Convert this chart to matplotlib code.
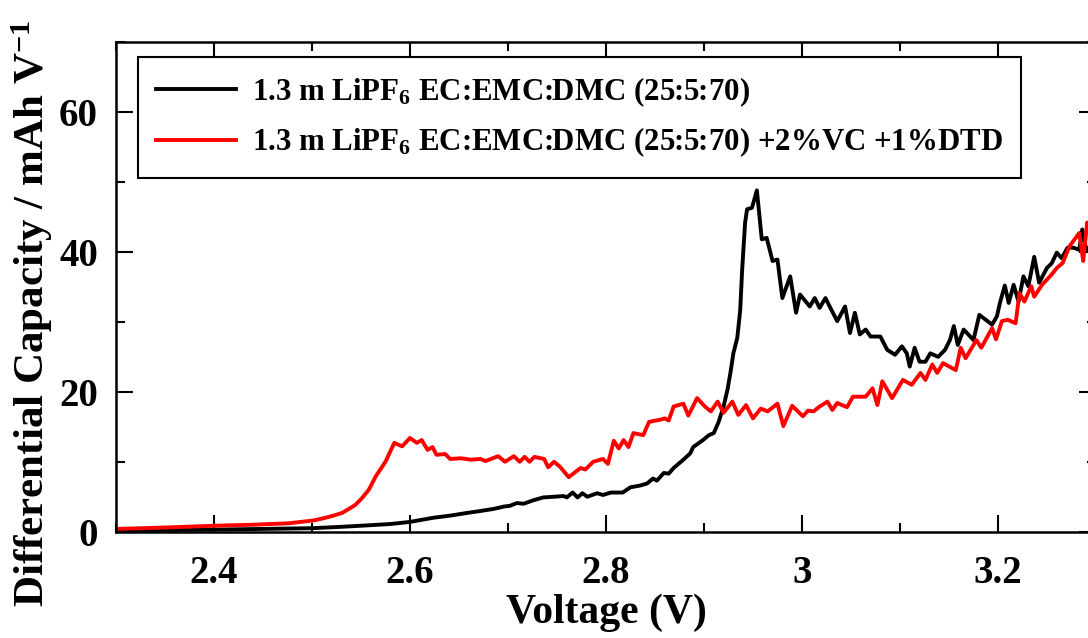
import numpy as np
import matplotlib
matplotlib.use('Agg')
import matplotlib.pyplot as plt
from matplotlib.ticker import MultipleLocator

plt.rcParams['font.family'] = 'Liberation Serif'
plt.rcParams['font.weight'] = 'bold'
plt.rcParams['axes.labelweight'] = 'bold'
plt.rcParams['mathtext.fontset'] = 'custom'
plt.rcParams['mathtext.rm'] = 'Liberation Serif:bold'
plt.rcParams['mathtext.bf'] = 'Liberation Serif:bold'
plt.rcParams['mathtext.it'] = 'Liberation Serif:bold'

# baseline electrolyte
black_v = [2.300, 2.350, 2.400, 2.450, 2.500, 2.530, 2.562, 2.580, 2.590, 2.600,
           2.612, 2.624, 2.641, 2.659, 2.669, 2.685, 2.696, 2.702, 2.709, 2.716,
           2.726, 2.736, 2.747, 2.757, 2.760, 2.766, 2.771, 2.776, 2.781, 2.791,
           2.797, 2.805, 2.817, 2.825, 2.835, 2.842, 2.848, 2.852, 2.859, 2.864,
           2.869, 2.879, 2.886, 2.889, 2.899, 2.905, 2.910, 2.915, 2.920, 2.924,
           2.927, 2.930, 2.934, 2.937, 2.939, 2.942, 2.944, 2.949, 2.954, 2.959,
           2.964, 2.970, 2.975, 2.980, 2.988, 2.994, 2.998, 3.008, 3.013, 3.018,
           3.024, 3.029, 3.036, 3.044, 3.049, 3.054, 3.059, 3.065, 3.070, 3.080,
           3.087, 3.095, 3.102, 3.107, 3.110, 3.115, 3.120, 3.126, 3.131, 3.139,
           3.146, 3.151, 3.155, 3.159, 3.165, 3.175, 3.181, 3.194, 3.199, 3.202,
           3.207, 3.211, 3.216, 3.221, 3.226, 3.231, 3.237, 3.242, 3.250, 3.255,
           3.260, 3.265, 3.271, 3.277, 3.283, 3.286, 3.290, 3.300]
black_c = [0.2, 0.25, 0.3, 0.4, 0.5, 0.7, 0.95, 1.1, 1.25, 1.4,
           1.7, 2.0, 2.3, 2.7, 2.9, 3.25, 3.6, 3.7, 4.1, 4.0,
           4.5, 4.9, 5.0, 5.1, 4.9, 5.6, 4.9, 5.5, 5.0, 5.5,
           5.25, 5.6, 5.6, 6.35, 6.6, 6.9, 7.6, 7.3, 8.4, 8.3,
           9.1, 10.3, 11.2, 12.1, 13.1, 13.8, 14.1, 15.7, 17.9, 20.3,
           22.7, 25.5, 27.7, 31.7, 37.5, 44.2, 46.1, 46.3, 48.8, 41.8,
           42.0, 38.7, 38.9, 33.4, 36.5, 31.3, 33.9, 32.2, 33.4, 32.0,
           33.4, 32.0, 30.1, 32.2, 28.4, 31.3, 28.2, 28.9, 27.9, 27.9,
           26.0, 25.3, 26.5, 25.5, 23.6, 26.3, 24.3, 24.3, 25.5, 25.0,
           26.0, 27.4, 29.4, 26.7, 28.9, 27.4, 31.0, 29.6, 30.8, 32.7,
           35.2, 32.7, 35.3, 32.9, 36.5, 35.1, 39.3, 35.6, 37.7, 38.4,
           39.9, 39.1, 40.6, 40.6, 40.3, 43.2, 40.3, 41.5]

# with additives
red_v = [2.300, 2.350, 2.402, 2.440, 2.476, 2.501, 2.511, 2.522, 2.531, 2.544,
         2.551, 2.558, 2.565, 2.575, 2.584, 2.592, 2.600, 2.607, 2.612, 2.618,
         2.623, 2.627, 2.636, 2.641, 2.652, 2.662, 2.672, 2.677, 2.690, 2.697,
         2.706, 2.712, 2.717, 2.722, 2.727, 2.737, 2.741, 2.747, 2.753, 2.762,
         2.774, 2.779, 2.787, 2.797, 2.802, 2.808, 2.813, 2.818, 2.823, 2.828,
         2.838, 2.844, 2.855, 2.860, 2.864, 2.869, 2.879, 2.884, 2.893, 2.901,
         2.907, 2.914, 2.920, 2.929, 2.935, 2.943, 2.950, 2.958, 2.965, 2.975,
         2.981, 2.990, 3.001, 3.006, 3.012, 3.017, 3.026, 3.031, 3.036, 3.046,
         3.052, 3.065, 3.072, 3.077, 3.082, 3.092, 3.103, 3.112, 3.121, 3.126,
         3.133, 3.138, 3.144, 3.153, 3.157, 3.162, 3.167, 3.178, 3.183, 3.194,
         3.198, 3.204, 3.210, 3.218, 3.222, 3.227, 3.234, 3.237, 3.245, 3.255,
         3.260, 3.266, 3.273, 3.283, 3.287, 3.291, 3.300]
red_c = [0.4, 0.6, 0.86, 1.0, 1.2, 1.6, 1.9, 2.3, 2.7, 3.8,
         4.8, 6.0, 7.9, 10.0, 12.7, 12.2, 13.4, 12.7, 13.1, 11.7,
         12.1, 11.0, 11.1, 10.4, 10.5, 10.3, 10.4, 10.1, 10.8, 10.0,
         10.8, 10.0, 10.7, 10.0, 10.7, 10.4, 9.2, 10.0, 9.3, 7.8,
         9.1, 8.9, 10.0, 10.4, 9.7, 13.0, 11.9, 13.1, 12.1, 14.1,
         13.8, 15.7, 16.0, 16.2, 15.9, 17.9, 18.3, 16.6, 19.1, 17.9,
         17.2, 18.6, 17.0, 18.6, 16.7, 18.1, 16.2, 17.6, 17.2, 18.3,
         15.1, 18.0, 16.5, 17.3, 17.2, 17.8, 18.6, 17.4, 18.4, 17.8,
         19.3, 19.3, 20.5, 18.1, 21.5, 19.1, 21.7, 21.0, 22.7, 21.7,
         23.9, 22.7, 24.1, 23.4, 23.1, 26.3, 24.8, 27.4, 26.3, 29.1,
         27.5, 30.1, 30.3, 29.8, 34.1, 32.9, 35.1, 33.6, 35.3, 36.8,
         37.7, 38.4, 40.8, 42.7, 38.7, 44.2, 42.0]

labels = [r'1.3 m LiPF$_6$ EC:EMC:DMC (25:5:70)',
          r'1.3 m LiPF$_6$ EC:EMC:DMC (25:5:70) +2%VC +1%DTD']

fig = plt.figure(figsize=(10.88, 6.38), dpi=100)
ax = fig.add_axes([0.1066, 0.1666, 0.9007, 0.7675])

ax.plot(black_v, black_c, color='black', lw=2.8, label=labels[0])
ax.plot(red_v, red_c, color='#ff0000', lw=2.8, label=labels[1])

ax.set_xlim(2.3, 3.3)
ax.set_ylim(0, 70)
ax.xaxis.set_minor_locator(MultipleLocator(0.1))
ax.yaxis.set_major_locator(MultipleLocator(20))
ax.yaxis.set_minor_locator(MultipleLocator(10))
ax.set_xticks([2.4, 2.6, 2.8, 3.0, 3.2])
ax.set_xticklabels(['2.4', '2.6', '2.8', '3', '3.2'])

ax.tick_params(which='both', direction='in', top=True, right=True, width=1.5,
               labelsize=28)
ax.tick_params(which='major', length=12)
ax.tick_params(which='minor', length=6.5)
ax.tick_params(axis='x', pad=17)
ax.tick_params(axis='y', pad=13)
for s in ax.spines.values():
    s.set_linewidth(1.8)

ax.set_xlabel('Voltage (V)', fontsize=30, labelpad=1)
ax.set_ylabel(r'Differential Capacity / mAh V$^{-1}$', fontsize=31)
ax.yaxis.set_label_coords(-0.062, 0.445)

leg = ax.legend(loc='upper left', bbox_to_anchor=(0.022, 0.97), fontsize=22.2,
                frameon=True, fancybox=False, edgecolor='black',
                handlelength=2.6, borderpad=0.6, labelspacing=0.55,
                handletextpad=0.5, borderaxespad=0)
leg.get_frame().set_linewidth(1.5)
leg.get_frame().set_alpha(1)

fig.savefig('out.png', dpi=100)
